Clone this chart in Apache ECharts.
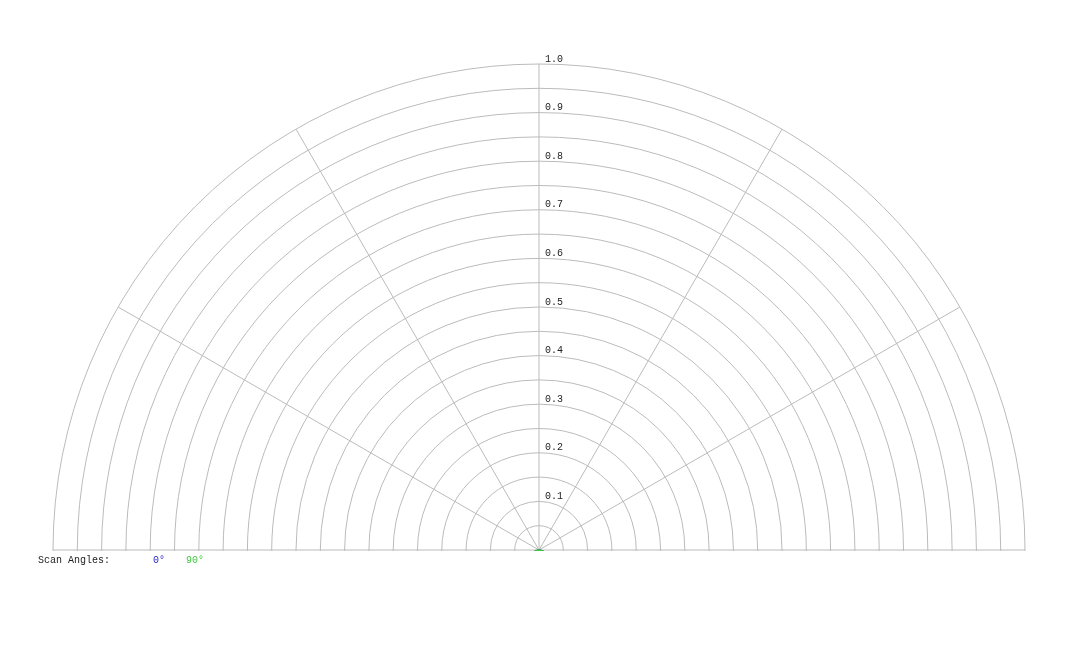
<!DOCTYPE html>
<html><head><meta charset="utf-8">
<script src="https://cdn.jsdelivr.net/npm/echarts@6/dist/echarts.min.js"></script>
<style>html,body{margin:0;background:#fff}#c{width:1080px;height:648px}</style>
</head><body><div id="c"></div>
<script>
// scan angle 0 deg (blue): polar angle (deg) and normalized value
var blueAngles = [-70, -66, -64, -60, -56, -54, -50, -46.5, -42, -38, -34, -30, -26, -22, -18, -14, -10, -7, -4, -2, 0, 2, 4, 6, 9, 12, 16.5, 20, 24, 27.8, 31, 35, 38, 42, 46, 50, 53, 54.7, 58, 63, 67, 70];
var blueValues = [0.0, 0.08, 0.13, 0.2, 0.26, 0.28, 0.31, 0.33, 0.33, 0.32, 0.335, 0.335, 0.335, 0.34, 0.345, 0.35, 0.35, 0.355, 0.345, 0.36, 0.366, 0.34, 0.36, 0.362, 0.35, 0.355, 0.354, 0.345, 0.35, 0.349, 0.34, 0.345, 0.365, 0.36, 0.355, 0.33, 0.31, 0.25, 0.19, 0.09, 0.03, 0.0];
// scan angle 90 deg (green)
var greenAngles = [-70, -67.7, -63.6, -60, -56.4, -52.5, -48.9, -46.5, -44.5, -42, -39.4, -36.5, -33, -30, -26.7, -23.5, -20.5, -18, -15.5, -12, -9, -7, -4, -2, 0, 2, 4.6, 8, 12.2, 15, 17.4, 19.5, 21.6, 24.5, 27, 32, 36, 40, 42.5, 44.5, 46.5, 48.5, 50.3, 50.9, 52, 52.9, 56, 62.9, 67, 70];
var greenValues = [0.0, 0.136, 0.324, 0.46, 0.595, 0.74, 0.877, 0.95, 0.98, 0.995, 0.99, 0.955, 0.86, 0.8, 0.737, 0.66, 0.593, 0.53, 0.47, 0.41, 0.37, 0.355, 0.35, 0.37, 0.344, 0.36, 0.355, 0.36, 0.379, 0.43, 0.474, 0.51, 0.553, 0.63, 0.717, 0.81, 0.87, 0.96, 0.987, 0.985, 0.94, 0.86, 0.77, 0.66, 0.555, 0.45, 0.307, 0.09, 0.03, 0.0];
var angleTicks = [90, 60, 30, 0, -30, -60, -90];

var font = '"Liberation Mono", "DejaVu Sans Mono", monospace';
function pairs(a, v) { return a.map(function (x, i) { return [v[i], x]; }); }

var chart = echarts.init(document.getElementById('c'));
chart.setOption({
	animation: false,
	polar: { center: [539, 550], radius: 486 },
	angleAxis: {
		type: 'value', min: -180, max: 180, interval: 30, startAngle: 90, clockwise: false,
		axisLine: { show: false }, axisTick: { show: false }, axisLabel: { show: false },
		splitLine: { lineStyle: { color: '#bbb', width: 1 } }
	},
	radiusAxis: {
		type: 'value', min: 0, max: 1, interval: 0.05,
		axisLine: { show: false }, axisTick: { show: false },
		axisLabel: {
			fontFamily: font, fontSize: 10, color: '#222', margin: -6, align: 'left', verticalAlign: 'bottom',
			formatter: function (v) { var k = Math.round(v * 100); return (k > 0 && k % 10 === 0) ? (k / 100).toFixed(1) : ''; }
		},
		splitLine: { show: true, lineStyle: { color: '#bbb', width: 1 } }
	},
	graphic: [
		{ type: 'rect', z: 100, shape: { x: 0, y: 551, width: 1080, height: 100 }, style: { fill: '#fff' } },
		{ type: 'text', z: 101, left: 38, top: 555, style: { text: 'Scan Angles:', font: '10px ' + font, fill: '#222' } },
		{ type: 'text', z: 101, left: 153, top: 555, style: { text: '0°', font: '10px ' + font, fill: '#1f1fc8' } },
		{ type: 'text', z: 101, left: 186, top: 555, style: { text: '90°', font: '10px ' + font, fill: '#3ec83e' } }
	],
	series: [
		{ type: 'line', coordinateSystem: 'polar', polarIndex: 0, encode: { radius: 0, angle: 1 },
			data: pairs(blueAngles, blueValues), showSymbol: false, smooth: 0.3,
			lineStyle: { color: '#1f1fc8', width: 2 }, z: 5 },
		{ type: 'line', coordinateSystem: 'polar', polarIndex: 0, encode: { radius: 0, angle: 1 },
			data: pairs(greenAngles, greenValues), showSymbol: false, smooth: 0.3,
			lineStyle: { color: '#3ec83e', width: 2 }, z: 6 },
		{ type: 'scatter', coordinateSystem: 'polar', polarIndex: 0, encode: { radius: 0, angle: 1 },
			symbolSize: 1, itemStyle: { color: 'rgba(0,0,0,0)' }, z: 200,
			data: angleTicks.map(function (a) {
				return { value: [a === 0 ? 1.03 : 1.06, a], label: { rotate: a } };
			}),
			label: { show: true, position: 'inside', fontFamily: font, fontSize: 10, color: '#222',
				formatter: function (p) { return p.value[1] + '°'; } } }
	]
});
</script></body></html>
